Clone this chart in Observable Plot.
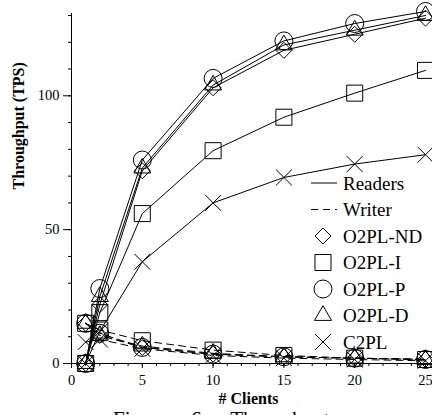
<!DOCTYPE html>
<html><head><meta charset="utf-8">
<script src="https://cdn.jsdelivr.net/npm/d3@7"></script>
<script src="https://cdn.jsdelivr.net/npm/@observablehq/plot@0.6"></script>
<style>
body{margin:0;background:#fff;}
#wrap{position:relative;width:432px;height:415px;overflow:hidden;font-family:"Liberation Serif","Times New Roman",serif;color:#000;}
#wrap svg, #wrap svg text{font-family:"Liberation Serif","Times New Roman",serif !important;}
#legend{position:absolute;left:0;top:0;}
#caption{position:absolute;left:113px;top:409px;font-size:21px;line-height:21px;white-space:nowrap;word-spacing:18px;}
</style></head><body><div id="wrap"></div>
<script>
const clients = [1, 2, 5, 10, 15, 20, 25];
const protocols = ["O2PL-ND", "O2PL-I", "O2PL-P", "O2PL-D", "C2PL"];
const symbols = ["diamond2", "square2", "circle", "triangle2", "times"];
const readersND = [0, 22, 72, 103, 117, 123, 129];
const readersI  = [0, 19, 56, 79.5, 92, 101, 109.5];
const readersP  = [0, 28, 76, 106.5, 120.5, 127, 131.5];
const readersD  = [0, 25, 73, 104, 119, 124.5, 130];
const readersC  = [0, 12, 38, 60, 69.5, 74.5, 78];
const writerND  = [15, 10.5, 6, 3.5, 2.5, 2, 1.5];
const writerI   = [15, 12.5, 8.5, 5, 3, 2, 1.5];
const writerP   = [15, 11.3, 6, 3.5, 2.5, 2, 1.5];
const writerD   = [15, 10.5, 6.5, 3.8, 2.5, 2, 1.5];
const writerC   = [8, 9, 5.5, 3, 2, 1.5, 1];
const yMajorTicks = [0, 50, 100];
const xMajorTicks = [0, 5, 10, 15, 20, 25];
const legendLines = ["Readers", "Writer"];

const readers = [readersND, readersI, readersP, readersD, readersC];
const writers = [writerND, writerI, writerP, writerD, writerC];
const symbolR = {diamond2: 7.2, square2: 10.2, circle: 9, triangle2: 8.1, times: 7.3};

const rows = [];
protocols.forEach((p, i) => {
  clients.forEach((c, j) => {
    rows.push({protocol: p, symbol: symbols[i], kind: "Readers", clients: c, tps: readers[i][j]});
    rows.push({protocol: p, symbol: symbols[i], kind: "Writer", clients: c, tps: writers[i][j]});
  });
});

const font = '"Liberation Serif","Times New Roman",serif';
const marks = [
  Plot.ruleY([0], {insetLeft: -8, insetRight: -7, stroke: "#000"}),
  Plot.ruleX([0], {insetTop: -2, stroke: "#000"}),
  Plot.axisY(d3.range(0, 131, 10), {tickSize: 3, tickFormat: () => "", label: null}),
  Plot.axisY(yMajorTicks, {tickSize: 8, tickPadding: 4, fontSize: 14.5, label: null}),
  Plot.axisX(d3.range(0, 26, 1), {tickSize: 3, tickFormat: () => "", label: null}),
  Plot.axisX(xMajorTicks, {tickSize: 5, tickPadding: 6, fontSize: 14.5, label: null}),
  Plot.line(rows.filter(d => d.kind === "Readers"), {x: "clients", y: "tps", z: "protocol", stroke: "#000", strokeWidth: 1}),
  Plot.line(rows.filter(d => d.kind === "Writer"), {x: "clients", y: "tps", z: "protocol", stroke: "#000", strokeWidth: 1, strokeDasharray: "7,5"}),
  ...symbols.map(s => Plot.dot(rows.filter(d => d.symbol === s), {x: "clients", y: "tps", symbol: () => s, r: symbolR[s], stroke: "#000", fill: "none", strokeWidth: 1})),
  Plot.text(["# Clients"], {frameAnchor: "bottom", dy: 40, fontSize: 16, fontWeight: "bold", fill: "#000"}),
  Plot.text(["Throughput (TPS)"], {frameAnchor: "left", dx: -53, rotate: -90, fontSize: 16, fontWeight: "bold", fill: "#000"})
];

const chart = Plot.plot({
  width: 432, height: 415,
  marginLeft: 71, marginRight: 7, marginTop: 15, marginBottom: 52,
  x: {domain: [0, 25]},
  y: {domain: [0, 130]},
  symbol: {type: "identity"},
  style: {fontFamily: font, fontSize: "14.5px", color: "#000", background: "#fff"},
  marks
});
const wrap = document.getElementById("wrap");
wrap.appendChild(chart);

// legend overlay
const leg = d3.select(wrap).append("svg").attr("id", "legend").attr("width", 432).attr("height", 415)
  .style("font-family", font).style("font-size", "19px");
const rowY = i => 183 + i * 26.5;
legendLines.forEach((name, i) => {
  leg.append("line").attr("x1", 311).attr("x2", 337).attr("y1", rowY(i)).attr("y2", rowY(i))
    .attr("stroke", "#000").attr("stroke-dasharray", i === 1 ? "7,5" : null);
  leg.append("text").attr("x", 343).attr("y", rowY(i)).attr("dy", "0.35em").text(name);
});
const symMap = {diamond2: d3.symbolDiamond2, square2: d3.symbolSquare2, circle: d3.symbolCircle, triangle2: d3.symbolTriangle2, times: d3.symbolTimes};
protocols.forEach((p, i) => {
  const s = symbols[i];
  const r = symbolR[s];
  leg.append("path").attr("transform", `translate(323,${rowY(i + 2)})`)
    .attr("d", d3.symbol(symMap[s], r * r * Math.PI)()).attr("fill", "none").attr("stroke", "#000");
  leg.append("text").attr("x", 343).attr("y", rowY(i + 2)).attr("dy", "0.35em").text(p);
});

const cap = document.createElement("div");
cap.id = "caption";
cap.textContent = "Figure 6: Throughput";
wrap.appendChild(cap);
</script></body></html>
